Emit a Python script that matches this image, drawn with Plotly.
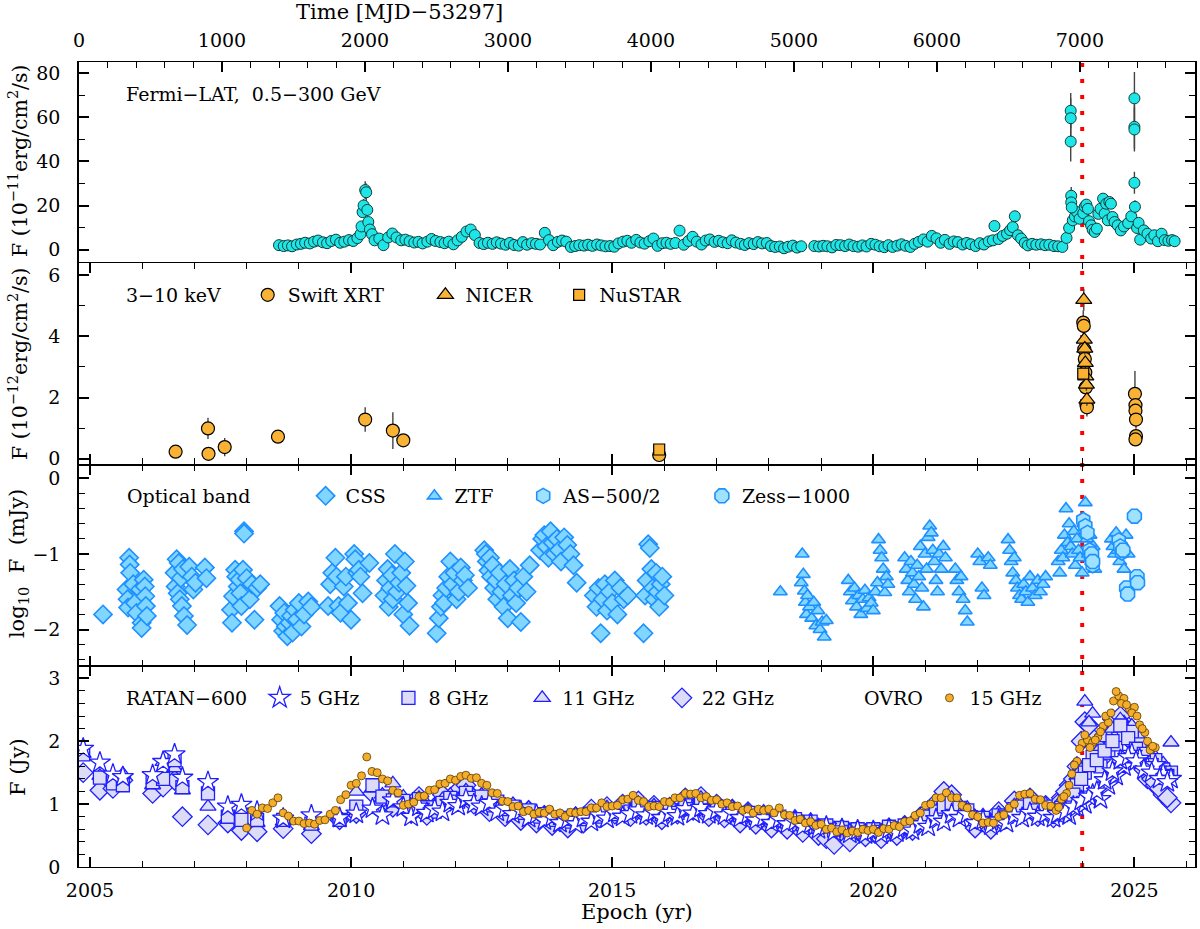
import plotly.graph_objects as go
from plotly.subplots import make_subplots

# ------------------------------------------------------------------ data
MJD0_YEAR = 2004.79          # epoch of MJD 53297
X_RANGE = [2004.79, 2026.16]
red_line_epoch = 2024.0

# Fermi-LAT 0.5-300 GeV (1e-11 erg/cm2/s)
fermi_t = [2008.62, 2008.71, 2008.79, 2008.87, 2008.96,
           2009.04, 2009.12, 2009.21, 2009.29, 2009.37, 2009.46, 2009.54, 2009.62, 2009.71, 2009.79, 2009.87, 2009.96,
           2010.04, 2010.12, 2010.18, 2010.20, 2010.33, 2010.36, 2010.40, 2010.45, 2010.54, 2010.62, 2010.71, 2010.79, 2010.87, 2010.96,
           2011.04, 2011.12, 2011.21, 2011.29, 2011.37, 2011.46, 2011.54, 2011.62, 2011.71, 2011.79, 2011.87, 2011.96,
           2012.04, 2012.12, 2012.21, 2012.29, 2012.37, 2012.46, 2012.54, 2012.62, 2012.71, 2012.79, 2012.87, 2012.96,
           2013.04, 2013.12, 2013.21, 2013.29, 2013.37, 2013.46, 2013.54, 2013.62, 2013.71, 2013.79, 2013.87, 2013.96,
           2014.04, 2014.12, 2014.21, 2014.29, 2014.37, 2014.46, 2014.54, 2014.62, 2014.71, 2014.79, 2014.87, 2014.96,
           2015.04, 2015.12, 2015.21, 2015.29, 2015.37, 2015.46, 2015.54, 2015.62, 2015.71, 2015.79, 2015.87, 2015.96,
           2016.04, 2016.12, 2016.21, 2016.29, 2016.37, 2016.46, 2016.54, 2016.62, 2016.71, 2016.79, 2016.87, 2016.96,
           2017.04, 2017.12, 2017.21, 2017.29, 2017.37, 2017.46, 2017.54, 2017.62, 2017.71, 2017.79, 2017.87, 2017.96,
           2018.04, 2018.12, 2018.21, 2018.29, 2018.37, 2018.46, 2018.54, 2018.62, 2018.87, 2018.96,
           2019.04, 2019.12, 2019.21, 2019.29, 2019.37, 2019.46, 2019.54, 2019.62, 2019.71, 2019.79, 2019.87, 2019.96,
           2020.04, 2020.12, 2020.21, 2020.29, 2020.37, 2020.46, 2020.54, 2020.62, 2020.71, 2020.79, 2020.87, 2020.96,
           2021.04, 2021.12, 2021.21, 2021.29, 2021.37, 2021.46, 2021.54, 2021.62, 2021.71, 2021.79, 2021.87, 2021.96,
           2022.04, 2022.12, 2022.21, 2022.29, 2022.32, 2022.40, 2022.48, 2022.56, 2022.62, 2022.67, 2022.77, 2022.83, 2022.90, 2022.96,
           2023.04, 2023.12, 2023.21, 2023.29, 2023.37, 2023.46, 2023.54, 2023.62, 2023.70, 2023.75, 2023.82, 2023.86, 2023.90, 2023.95,
           2024.02, 2024.05, 2024.08, 2024.11, 2024.13, 2024.17, 2024.20, 2024.24, 2024.28, 2024.31, 2024.35, 2024.40,
           2024.43, 2024.46, 2024.49, 2024.52, 2024.55, 2024.58, 2024.62, 2024.68, 2024.74, 2024.80, 2024.88, 2024.94,
           2025.05, 2025.08, 2025.11, 2025.18, 2025.25, 2025.32, 2025.38, 2025.45, 2025.52, 2025.58, 2025.65, 2025.72, 2025.77]
fermi_f = [2.0, 1.6, 1.9, 1.5, 2.3,
           2.6, 3.1, 2.8, 3.6, 4.1, 3.3, 2.9, 3.9, 4.5, 3.1, 3.6, 4.3,
           3.9, 5.2, 7.0, 10.5, 12.5, 9.1, 7.0, 4.2, 5.0, 2.0, 5.5, 7.3, 5.5, 4.2,
           4.5, 3.8, 3.2, 3.5, 2.8, 3.6, 4.8, 3.9, 3.4, 2.9, 3.6, 2.4,
           4.2, 5.8, 8.2, 9.1, 6.6, 3.0, 2.5, 3.1, 2.6, 3.3, 2.7, 2.2,
           3.0, 2.1, 1.8, 3.4, 2.2, 2.9, 2.6, 2.3, 7.6, 4.3, 2.0, 3.5,
           4.1, 3.6, 1.2, 1.6, 2.0, 1.8, 2.2, 1.7, 2.3, 1.9, 1.5, 1.6,
           1.3, 2.8, 3.6, 4.0, 3.1, 4.4, 3.2, 2.7, 3.8, 5.0, 1.7, 2.9,
           3.1, 2.6, 3.0, 8.6, 2.2, 3.9, 5.8, 3.6, 2.3, 4.1, 4.6, 3.5,
           4.0, 3.3, 2.9, 4.2, 3.2, 2.6, 2.1, 2.9, 2.5, 3.4, 2.8, 3.0,
           1.6, 1.2, 1.4, 0.6, 1.3, 1.8, 0.9, 1.5, 1.6, 1.4,
           1.7, 1.5, 1.0, 2.1, 2.0, 1.6, 2.3, 1.6, 1.3, 1.9, 1.4, 2.6,
           2.2, 1.5, 1.1, 2.0, 1.2, 1.8, 2.4, 1.7, 1.2, 2.6, 3.5, 4.6,
           3.6, 6.2, 5.1, 3.1, 4.4, 2.6, 3.7, 3.4, 2.3, 3.0, 2.4, 1.6,
           2.9, 2.3, 3.7, 4.2, 10.7, 4.8, 6.2, 7.2, 8.8, 10.2, 6.5, 5.0, 3.0, 1.9,
           2.6, 2.2, 2.4, 2.0, 2.2, 1.6, 1.5, 1.2, 5.3, 9.8, 13.3, 15.0, 17.0, 14.0,
           16.5, 19.5, 20.4, 18.5, 12.9, 11.0, 9.0, 8.0, 9.5, 16.2, 18.5, 23.1,
           16.3, 20.8, 13.3, 21.6, 20.8, 14.8, 12.5, 11.0, 8.7, 10.5, 12.0, 15.1,
           9.8, 12.1, 4.5, 8.7, 7.2, 5.0, 6.5, 3.8, 7.2, 4.3, 4.0, 4.3, 3.8]
# Fermi flare bins with visible error bars
fermi_hi_t = [2010.22, 2010.24, 2010.27, 2010.29, 2010.31, 2022.71, 2023.78, 2023.78, 2023.78,
              2023.79, 2023.79, 2023.80, 2025.00, 2025.00, 2025.00, 2025.00, 2025.01]
fermi_hi_f = [17.0, 20.0, 27.0, 26.0, 18.0, 15.1, 63.0, 59.6, 49.0,
              24.4, 21.4, 19.1, 68.6, 55.7, 54.5, 30.3, 19.4]
fermi_hi_e = [2.5, 3.0, 4.0, 4.0, 3.0, 2.5, 8.0, 9.0, 9.0,
              4.0, 3.0, 2.5, 12.0, 10.0, 10.0, 5.0, 3.0]

# X-ray 3-10 keV (1e-12 erg/cm2/s)
swift_t = [2006.64, 2007.26, 2007.27, 2007.58, 2008.60, 2010.27, 2010.80, 2011.00, 2015.90,
           2024.02, 2024.03, 2024.04, 2024.05, 2024.06, 2024.07, 2024.08, 2024.09,
           2025.01, 2025.02, 2025.02, 2025.03, 2025.03, 2025.02]
swift_f = [0.23, 0.99, 0.16, 0.38, 0.72, 1.28, 0.92, 0.60, 0.12,
           4.45, 4.34, 3.58, 3.26, 2.82, 2.33, 1.77, 1.68,
           2.12, 1.75, 1.57, 1.28, 0.74, 0.63]
swift_e = [0.08, 0.35, 0.08, 0.30, 0.10, 0.40, 0.60, 0.15, 0.10,
           0.40, 0.30, 0.30, 0.30, 0.30, 0.30, 0.30, 0.30,
           0.75, 0.30, 0.30, 0.30, 0.20, 0.20]
nicer_t = [2024.03, 2024.04, 2024.05, 2024.06, 2024.07, 2024.08, 2024.09]
nicer_f = [5.19, 3.89, 3.60, 3.13, 2.69, 2.42, 1.93]
nicer_e = [0.35, 0.20, 0.20, 0.20, 0.20, 0.20, 0.20]
nustar_t = [2015.90, 2024.02]
nustar_f = [0.30, 2.78]

# Optical, log10 F (mJy)
css_t = [2005.25,
         2005.70, 2005.72, 2005.73, 2005.75, 2005.76, 2005.77, 2005.83, 2005.86, 2005.89, 2005.96, 2005.99, 2005.99, 2006.03, 2006.05, 2006.06, 2006.07, 2006.09,
         2006.62, 2006.64, 2006.66, 2006.68, 2006.70, 2006.72, 2006.74, 2006.76, 2006.78, 2006.80, 2006.86, 2006.90, 2006.95, 2006.98, 2007.02, 2007.20, 2007.23,
         2007.70, 2007.72, 2007.74, 2007.78, 2007.80, 2007.83, 2007.86, 2007.88, 2007.90, 2007.93, 2007.95, 2007.95, 2008.00, 2008.06, 2008.10, 2008.15, 2008.20, 2008.26,
         2008.63, 2008.66, 2008.70, 2008.72, 2008.75, 2008.78, 2008.82, 2008.85, 2008.88, 2008.92, 2008.96, 2009.00, 2009.05, 2009.10, 2009.18, 2009.24,
         2009.56, 2009.60, 2009.64, 2009.70, 2009.72, 2009.76, 2009.80, 2009.86, 2009.90, 2009.94, 2010.00, 2010.06, 2010.08, 2010.12, 2010.15, 2010.18, 2010.22, 2010.35,
         2010.64, 2010.67, 2010.70, 2010.72, 2010.75, 2010.78, 2010.80, 2010.84, 2010.88, 2010.92, 2010.96, 2011.00, 2011.03, 2011.06, 2011.09, 2011.12,
         2011.64, 2011.68, 2011.72, 2011.75, 2011.78, 2011.82, 2011.86, 2011.90, 2011.94, 2011.98, 2012.02, 2012.06, 2012.10, 2012.14, 2012.18, 2012.24,
         2012.55, 2012.58, 2012.60, 2012.63, 2012.66, 2012.68, 2012.71, 2012.74, 2012.77, 2012.80, 2012.84, 2012.88, 2012.92, 2012.96,
         2013.00, 2013.04, 2013.08, 2013.12, 2013.16, 2013.20, 2013.25, 2013.30, 2013.36, 2013.42,
         2013.62, 2013.66, 2013.70, 2013.74, 2013.78, 2013.82, 2013.86, 2013.90, 2013.94, 2013.98, 2014.02, 2014.08, 2014.14, 2014.20, 2014.26, 2014.32,
         2014.65, 2014.70, 2014.74, 2014.78, 2014.82, 2014.86, 2014.90, 2014.95, 2015.00, 2015.05, 2015.10, 2015.16, 2015.22, 2015.30,
         2015.60, 2015.63, 2015.66, 2015.69, 2015.72, 2015.75, 2015.78, 2015.81, 2015.84, 2015.87, 2015.90, 2015.93, 2015.96, 2016.00]
css_m = [-1.80,
         -1.47, -1.60, -1.71, -1.05, -1.14, -1.25, -1.40, -1.65, -1.78, -1.47, -1.91, -1.98, -1.34, -1.43, -1.56, -1.69, -1.82,
         -1.25, -1.43, -1.07, -1.52, -1.12, -1.60, -1.32, -1.69, -1.20, -1.82, -1.94, -1.17, -1.30, -1.47, -1.38, -1.18, -1.32,
         -1.74, -1.91, -1.56, -1.21, -1.30, -1.43, -1.34, -1.52, -1.69, -1.21, -0.70, -0.73, -1.32, -1.60, -1.40, -1.87, -1.45, -1.40,
         -1.69, -1.87, -2.02, -1.78, -1.96, -2.09, -1.91, -1.82, -2.04, -1.74, -1.87, -1.65, -1.96, -1.80, -1.63, -1.70,
         -1.69, -1.40, -1.25, -1.05, -1.30, -1.69, -1.78, -1.43, -1.30, -1.65, -1.87, -1.00, -1.07, -1.25, -1.21, -1.30, -1.52, -1.12,
         -1.55, -1.35, -1.20, -1.70, -1.45, -1.28, -1.60, -1.00, -1.50, -1.38, -1.25, -1.80, -1.10, -1.42, -1.65, -1.95,
         -2.05, -1.85, -1.70, -1.55, -1.65, -1.45, -1.30, -1.10, -1.40, -1.25, -1.60, -1.50, -1.18, -1.35, -1.28, -1.45,
         -0.95, -1.00, -1.10, -1.22, -1.05, -1.30, -1.15, -1.45, -1.35, -1.60, -1.25, -1.50, -1.70, -1.40,
         -1.85, -1.20, -1.55, -1.35, -1.65, -1.45, -1.90, -1.30, -1.50, -1.15,
         -0.95, -0.80, -0.75, -0.90, -1.05, -0.70, -0.85, -1.00, -0.80, -0.95, -1.10, -0.78, -0.88, -1.00, -1.15, -1.38,
         -1.55, -1.70, -1.45, -2.05, -1.60, -1.40, -1.75, -1.50, -1.65, -1.35, -1.80, -1.45, -1.60, -1.55,
         -2.05, -1.55, -1.35, -0.87, -0.92, -1.20, -1.45, -1.60, -1.25, -1.50, -1.70, -1.40, -1.30, -1.55]

ztf_t = [2018.22,
         2018.62, 2018.64, 2018.66, 2018.68, 2018.70, 2018.72, 2018.74, 2018.78, 2018.82, 2018.86, 2018.90, 2018.94, 2018.98, 2019.02, 2019.06, 2019.10,
         2019.52, 2019.56, 2019.60, 2019.64, 2019.68, 2019.72, 2019.76, 2019.80, 2019.84, 2019.88, 2019.92, 2019.96,
         2020.00, 2020.04, 2020.08, 2020.10, 2020.13, 2020.16, 2020.19, 2020.22, 2020.25, 2020.28,
         2020.60, 2020.63, 2020.66, 2020.69, 2020.72, 2020.75, 2020.78, 2020.81, 2020.84, 2020.87, 2020.90, 2020.93, 2020.96, 2020.99,
         2021.02, 2021.05, 2021.08, 2021.11, 2021.14, 2021.17, 2021.20, 2021.23, 2021.26, 2021.30, 2021.34, 2021.38,
         2021.57, 2021.60, 2021.64, 2021.68, 2021.72, 2021.76, 2021.80,
         2022.00, 2022.04, 2022.08, 2022.12, 2022.20, 2022.24,
         2022.58, 2022.61, 2022.64, 2022.67, 2022.70, 2022.73, 2022.76, 2022.80, 2022.84, 2022.88, 2022.92, 2022.96,
         2023.00, 2023.05, 2023.10, 2023.15, 2023.20, 2023.25, 2023.30,
         2023.54, 2023.57, 2023.60, 2023.63, 2023.66, 2023.69, 2023.72, 2023.75, 2023.78, 2023.81, 2023.84, 2023.87, 2023.90, 2023.93, 2023.96,
         2024.00, 2024.03, 2024.06, 2024.09, 2024.12, 2024.15, 2024.18, 2024.21, 2024.24,
         2024.56, 2024.59, 2024.62, 2024.65, 2024.68, 2024.72, 2024.76, 2024.80, 2024.84, 2024.88]
ztf_m = [-1.50,
         -1.38, -1.00, -1.27, -1.49, -1.64, -1.80, -1.55, -1.70, -1.85, -1.64, -1.95, -1.75, -2.00, -1.90, -2.10, -1.88,
         -1.35, -1.50, -1.62, -1.45, -1.70, -1.55, -1.80, -1.60, -1.48, -1.72, -1.58, -1.65,
         -1.75, -1.50, -1.38, -0.81, -0.95, -1.05, -1.20, -1.51, -1.30, -1.40,
         -1.05, -1.20, -1.35, -1.50, -1.10, -1.25, -1.40, -1.60, -1.15, -1.30, -0.90, -1.45, -1.70, -1.00,
         -1.20, -0.78, -0.63, -0.72, -0.95, -1.10, -1.35, -1.50, -1.00, -1.20, -0.90, -1.05,
         -1.20, -1.35, -1.50, -1.30, -1.60, -1.75, -1.90,
         -1.00, -1.10, -1.45, -1.55, -1.05, -1.15,
         -0.81, -0.95, -1.10, -1.25, -1.05, -1.35, -1.45, -1.55, -1.60, -1.40, -1.50, -1.64,
         -1.30, -1.45, -1.55, -1.35, -1.50, -1.40, -1.30,
         -1.10, -1.25, -0.95, -1.05, -0.75, -0.40, -0.85, -0.60, -0.90, -1.00, -0.70, -1.15, -0.80, -0.95, -1.05,
         -1.25, -0.60, -0.32, -0.80, -1.00, -0.75, -1.10, -0.90, -1.20,
         -0.80, -0.90, -1.00, -0.72, -0.95, -1.10, -0.85, -1.20, -0.75, -1.00]

as500_t = [2024.02, 2024.06, 2024.10, 2024.14, 2024.17, 2024.20, 2024.70, 2024.73, 2024.76]
as500_m = [-0.55, -0.63, -0.72, -0.95, -1.05, -1.15, -0.82, -0.90, -0.98]
zess_t = [2024.18, 2024.20, 2024.78, 2024.85, 2024.87, 2025.00, 2025.05, 2025.06]
zess_m = [-1.00, -1.10, -0.95, -1.45, -1.53, -0.50, -1.30, -1.38]

# Radio (Jy): RATAN-600 at 5, 8, 11, 22 GHz
ratan_t = [2004.87, 2005.19, 2005.44, 2005.63, 2006.20, 2006.40, 2006.62, 2006.77, 2007.26, 2007.64,
           2007.90, 2008.20, 2008.70, 2009.24, 2009.78, 2010.10, 2010.41, 2010.60, 2010.80,
           2011.00, 2011.15, 2011.30, 2011.45, 2011.60, 2011.75, 2011.90, 2012.05, 2012.20, 2012.35,
           2012.50, 2012.65, 2012.80, 2012.95, 2013.10, 2013.25, 2013.40, 2013.55, 2013.70, 2013.85,
           2014.00, 2014.15, 2014.30, 2014.45, 2014.60, 2014.75, 2014.90, 2015.05, 2015.20, 2015.35,
           2015.50, 2015.65, 2015.80, 2015.95, 2016.10, 2016.25, 2016.40, 2016.55, 2016.70, 2016.85,
           2017.00, 2017.15, 2017.30, 2017.45, 2017.60, 2017.75, 2017.90, 2018.05, 2018.20, 2018.35,
           2018.50, 2018.65, 2018.80, 2018.95, 2019.10, 2019.25, 2019.40, 2019.55, 2019.70, 2019.85,
           2020.00, 2020.15, 2020.30, 2020.45, 2020.60, 2020.75, 2020.90, 2021.05, 2021.20, 2021.35,
           2021.50, 2021.65, 2021.80, 2021.95, 2022.10, 2022.25, 2022.40, 2022.55, 2022.70, 2022.85,
           2023.00, 2023.15, 2023.30, 2023.45, 2023.60, 2023.75, 2023.90, 2024.05, 2024.20, 2024.35,
           2024.50, 2024.65, 2024.80, 2024.95, 2025.10, 2025.25, 2025.40, 2025.55, 2025.70,
           2023.53, 2023.68, 2023.83, 2023.98, 2024.13, 2024.28, 2024.43, 2024.58, 2024.73, 2024.88,
           2025.03, 2025.18, 2025.33, 2025.48, 2025.63]
ratan_5 = [1.88, 1.66, 1.47, 1.43, 1.46, 1.67, 1.79, 1.42, 1.35, 0.96,
           0.99, 0.88, 0.77, 0.82, 0.78, 0.85, 0.93, 0.82, 1.06,
           0.95, 0.80, 0.96, 0.86, 0.92, 0.88, 1.02, 0.97, 1.08, 1.00,
           0.96, 1.02, 0.88, 0.93, 0.84, 0.89, 0.78, 0.83, 0.74, 0.79,
           0.70, 0.75, 0.68, 0.78, 0.72, 0.82, 0.77, 0.86, 0.80, 0.84,
           0.90, 0.82, 0.87, 0.78, 0.86, 0.81, 0.92, 0.85, 0.94, 0.84,
           0.90, 0.82, 0.86, 0.78, 0.83, 0.74, 0.78, 0.70, 0.76, 0.68,
           0.72, 0.64, 0.68, 0.60, 0.64, 0.56, 0.60, 0.53, 0.58, 0.52,
           0.57, 0.52, 0.60, 0.55, 0.62, 0.58, 0.68, 0.64, 0.76, 0.72,
           0.84, 0.78, 0.84, 0.70, 0.74, 0.66, 0.74, 0.70, 0.82, 0.78,
           0.86, 0.80, 0.84, 0.78, 0.86, 0.82, 0.95, 1.00, 1.15, 1.08,
           1.30, 1.45, 1.60, 1.80, 1.72, 1.58, 1.62, 1.48, 1.40,
           0.84, 0.88, 0.96, 1.05, 1.12, 1.20, 1.38, 1.52, 1.70, 1.75,
           1.68, 1.55, 1.50, 1.40, 1.35]
ratan_8 = [1.79, 1.42, 1.33, 1.30, 1.35, 1.40, 1.70, 1.27, 1.17, 0.80,
           0.75, 0.75, 0.75, 0.69, 0.75, 0.96, 1.30, 1.12, 1.06,
           1.05, 0.92, 1.08, 0.95, 0.88, 1.02, 1.10, 1.04, 1.18, 1.10,
           1.12, 0.98, 1.04, 0.92, 0.96, 0.86, 0.90, 0.80, 0.84, 0.75,
           0.78, 0.72, 0.80, 0.76, 0.85, 0.80, 0.90, 0.84, 0.94, 0.88,
           0.98, 0.90, 0.94, 0.84, 0.90, 0.86, 0.98, 0.92, 1.05, 0.90,
           0.96, 0.88, 0.92, 0.82, 0.86, 0.78, 0.84, 0.74, 0.80, 0.72,
           0.76, 0.68, 0.72, 0.64, 0.66, 0.58, 0.62, 0.56, 0.60, 0.55,
           0.60, 0.56, 0.64, 0.58, 0.66, 0.62, 0.74, 0.80, 0.88, 0.96,
           1.02, 0.94, 0.90, 0.76, 0.78, 0.70, 0.82, 0.80, 0.92, 0.96,
           1.00, 0.90, 0.96, 0.86, 0.94, 1.05, 1.30, 1.50, 1.75, 1.60,
           1.82, 1.95, 2.10, 2.15, 1.95, 1.78, 1.70, 1.55, 1.50,
           0.90, 1.00, 1.15, 1.40, 1.62, 1.70, 1.85, 2.00, 2.25, 2.05,
           1.88, 1.80, 1.62, 1.50, 1.45]
ratan_11 = [1.80, 1.45, 1.38, 1.48, 1.30, 1.67, 1.57, 1.22, 0.96, 0.75,
            0.72, 0.70, 0.72, 0.65, 0.80, 1.20, 1.25, 1.15, 1.33,
            1.12, 0.98, 1.10, 1.00, 0.94, 1.08, 1.15, 1.08, 1.22, 1.14,
            1.15, 1.02, 1.08, 0.96, 1.00, 0.90, 0.94, 0.84, 0.86, 0.78,
            0.80, 0.76, 0.84, 0.80, 0.88, 0.84, 0.95, 0.88, 0.98, 0.92,
            1.02, 0.94, 0.98, 0.88, 0.95, 0.90, 1.04, 0.96, 1.10, 0.94,
            1.00, 0.92, 0.96, 0.86, 0.90, 0.82, 0.88, 0.78, 0.84, 0.75,
            0.80, 0.72, 0.75, 0.66, 0.68, 0.60, 0.65, 0.58, 0.62, 0.57,
            0.62, 0.58, 0.66, 0.60, 0.70, 0.66, 0.78, 0.86, 0.96, 1.05,
            1.10, 1.00, 0.94, 0.80, 0.82, 0.74, 0.86, 0.84, 0.98, 1.04,
            1.06, 0.95, 1.00, 0.90, 1.02, 1.15, 1.45, 2.63, 2.44, 1.90,
            1.95, 2.10, 2.30, 2.25, 2.05, 1.85, 1.75, 1.65, 1.98,
            0.98, 1.08, 1.25, 1.55, 2.30, 2.00, 2.05, 2.20, 2.35, 2.15,
            1.95, 1.90, 1.72, 1.60, 1.55]
ratan_22 = [1.50, 1.22, 1.25, 1.38, 1.17, 1.27, 1.38, 0.80, 0.67, 0.70,
            0.58, 0.56, 0.61, 0.53, 0.75, 0.85, 1.17, 1.00, 0.95,
            1.00, 0.85, 1.12, 0.82, 0.95, 1.15, 1.05, 1.22, 1.30, 1.00,
            1.10, 0.88, 0.98, 0.80, 0.95, 0.74, 0.90, 0.70, 0.82, 0.66,
            0.72, 0.62, 0.80, 0.70, 0.92, 0.78, 0.96, 0.84, 1.00, 0.80,
            1.05, 0.82, 0.98, 0.75, 0.95, 0.84, 1.10, 0.90, 1.12, 0.80,
            1.00, 0.78, 0.92, 0.70, 0.88, 0.68, 0.82, 0.62, 0.78, 0.60,
            0.70, 0.55, 0.68, 0.50, 0.45, 0.36, 0.52, 0.40, 0.58, 0.48,
            0.55, 0.45, 0.62, 0.50, 0.66, 0.58, 0.80, 0.90, 1.02, 1.20,
            1.15, 0.92, 0.88, 0.62, 0.72, 0.60, 0.88, 0.78, 1.05, 1.02,
            1.10, 0.80, 0.98, 0.78, 1.10, 1.30, 1.60, 2.31, 2.05, 1.70,
            1.95, 2.25, 2.30, 2.00, 1.75, 1.40, 1.30, 1.15, 1.02,
            1.00, 1.20, 1.40, 2.00, 2.25, 1.85, 2.10, 2.35, 2.40, 2.05,
            1.70, 1.55, 1.40, 1.25, 1.10]

# OVRO 15 GHz (Jy)
ovro_t = [2008.0, 2008.1, 2008.2, 2008.3, 2008.4, 2008.5, 2008.6, 2008.7, 2008.8, 2008.9,
          2009.0, 2009.1, 2009.2, 2009.3, 2009.4, 2009.5, 2009.6, 2009.7, 2009.8, 2009.9,
          2010.0, 2010.1, 2010.2, 2010.3, 2010.4, 2010.5, 2010.6, 2010.7, 2010.8, 2010.9,
          2011.0, 2011.1, 2011.2, 2011.3, 2011.4, 2011.5, 2011.6, 2011.7, 2011.8, 2011.9,
          2012.0, 2012.1, 2012.2, 2012.3, 2012.4, 2012.5, 2012.6, 2012.7, 2012.8, 2012.9,
          2013.0, 2013.1, 2013.2, 2013.3, 2013.4, 2013.5, 2013.6, 2013.7, 2013.8, 2013.9,
          2014.0, 2014.1, 2014.2, 2014.3, 2014.4, 2014.5, 2014.6, 2014.7, 2014.8, 2014.9,
          2015.0, 2015.1, 2015.2, 2015.3, 2015.4, 2015.5, 2015.6, 2015.7, 2015.8, 2015.9,
          2016.0, 2016.1, 2016.2, 2016.3, 2016.4, 2016.5, 2016.6, 2016.7, 2016.8, 2016.9,
          2017.0, 2017.1, 2017.2, 2017.3, 2017.4, 2017.5, 2017.6, 2017.7, 2017.8, 2017.9,
          2018.0, 2018.1, 2018.2, 2018.3, 2018.4, 2018.5, 2018.6, 2018.7, 2018.8, 2018.9,
          2019.0, 2019.1, 2019.2, 2019.3, 2019.4, 2019.5, 2019.6, 2019.7, 2019.8, 2019.9,
          2020.0, 2020.1, 2020.2, 2020.3, 2020.4, 2020.5, 2020.6, 2020.7, 2020.8, 2020.9,
          2021.0, 2021.1, 2021.2, 2021.3, 2021.4, 2021.5, 2021.6, 2021.7, 2021.8, 2021.9,
          2022.0, 2022.1, 2022.2, 2022.3, 2022.4, 2022.5, 2022.6, 2022.7, 2022.8, 2022.9,
          2023.0, 2023.1, 2023.2, 2023.3, 2023.4, 2023.5, 2023.6, 2023.7, 2023.8, 2023.9,
          2024.0, 2024.1, 2024.2, 2024.3, 2024.4, 2024.5, 2024.6, 2024.7, 2024.8, 2024.9,
          2025.0, 2025.1, 2025.2, 2025.3, 2025.4,
          2023.55, 2023.65, 2023.75, 2023.85, 2023.95, 2024.05, 2024.15, 2024.25, 2024.35, 2024.45,
          2024.55, 2024.65, 2024.75, 2024.85, 2024.95, 2025.05, 2025.15, 2025.25, 2025.35]
ovro_f = [0.62, 0.90, 0.84, 0.94, 0.93, 1.02, 1.10, 0.86, 0.81, 0.73,
          0.73, 0.69, 0.70, 0.68, 0.74, 0.75, 0.84, 0.90, 1.07, 1.15,
          1.30, 1.33, 1.45, 1.75, 1.52, 1.50, 1.40, 1.37, 1.22, 1.18,
          0.98, 1.00, 1.03, 1.12, 1.13, 1.22, 1.23, 1.32, 1.33, 1.40,
          1.38, 1.44, 1.46, 1.41, 1.42, 1.33, 1.30, 1.18, 1.17, 1.05,
          1.04, 0.96, 0.97, 0.88, 0.90, 0.84, 0.87, 0.86, 0.92, 0.84,
          0.86, 0.80, 0.87, 0.86, 0.88, 0.88, 0.94, 0.94, 1.02, 0.96,
          0.97, 0.98, 1.07, 1.08, 1.14, 1.06, 1.04, 0.96, 0.97, 0.96,
          1.04, 1.03, 1.10, 1.10, 1.17, 1.16, 1.17, 1.10, 1.12, 1.06,
          1.07, 1.00, 1.02, 0.96, 0.97, 0.90, 0.92, 0.86, 0.92, 0.90,
          0.92, 0.86, 0.94, 0.83, 0.82, 0.74, 0.76, 0.70, 0.72, 0.66,
          0.68, 0.60, 0.62, 0.56, 0.59, 0.54, 0.57, 0.55, 0.60, 0.58,
          0.60, 0.55, 0.61, 0.60, 0.66, 0.64, 0.72, 0.73, 0.82, 0.86,
          0.98, 1.00, 1.10, 1.10, 1.18, 1.10, 1.10, 0.98, 0.94, 0.83,
          0.80, 0.70, 0.71, 0.70, 0.80, 0.83, 0.94, 1.00, 1.14, 1.16,
          1.17, 1.08, 1.07, 0.98, 0.97, 0.90, 1.08, 1.17, 1.48, 1.68,
          1.97, 2.02, 1.98, 2.06, 2.24, 2.30, 2.64, 2.72, 2.68, 2.52,
          2.54, 2.26, 2.14, 1.86, 1.90,
          0.95, 1.12, 1.30, 1.62, 1.88, 2.10, 1.90, 2.02, 2.15, 2.40,
          2.45, 2.79, 2.60, 2.58, 2.45, 2.40, 2.20, 2.00, 1.92]

for a, b in [(fermi_t, fermi_f), (fermi_hi_t, fermi_hi_f), (swift_t, swift_f), (css_t, css_m),
             (ztf_t, ztf_m), (ratan_t, ratan_5), (ratan_t, ratan_8), (ratan_t, ratan_11),
             (ratan_t, ratan_22), (ovro_t, ovro_f), (nicer_t, nicer_f)]:
    assert len(a) == len(b), (len(a), len(b))

# ------------------------------------------------------------------ style
FONT = "DejaVu Serif"
FS = 19
W, H = 1200, 929
ML, MR, MT, MB = 79, 3, 62, 62
PW, PH = W - ML - MR, H - MT - MB

CYAN, ORANGE = "#1fe6e6", "#f9b233"
SKY_FILL, SKY_LINE = "#80d6ff", "#1e90ff"
HEX_FILL = "#9ee2ff"
RAT_FILL, RAT_LINE = "#dcdcf6", "#1f1fff"
ERR = dict(type="data", color="#444444", thickness=1.4, width=0)


def year_to_mjd(y):
    return (y - MJD0_YEAR) * 365.25


fig = make_subplots(rows=4, cols=1, shared_xaxes=True, vertical_spacing=0)

# panel 1 : Fermi, drawn on the top MJD axis (x5)
fermi_mjd = [year_to_mjd(t) for t in fermi_t]
fermi_hi_mjd = [year_to_mjd(t) for t in fermi_hi_t]
fig.add_trace(go.Scatter(x=fermi_mjd, y=fermi_f, mode="markers", showlegend=False, xaxis="x5", yaxis="y",
                         marker=dict(symbol="circle", size=11, color=CYAN,
                                     line=dict(color="#0d3d3d", width=1))))
fig.add_trace(go.Scatter(x=fermi_hi_mjd, y=fermi_hi_f, mode="markers", showlegend=False, xaxis="x5", yaxis="y",
                         error_y=dict(array=fermi_hi_e, **ERR),
                         marker=dict(symbol="circle", size=11, color=CYAN,
                                     line=dict(color="#0d3d3d", width=1))))

# panel 2 : X-ray
fig.add_trace(go.Scatter(x=swift_t, y=swift_f, mode="markers", name="Swift XRT", legend="legend",
                         error_y=dict(array=swift_e, **ERR),
                         marker=dict(symbol="circle", size=13, color=ORANGE,
                                     line=dict(color="black", width=1.2))), row=2, col=1)
fig.add_trace(go.Scatter(x=nicer_t, y=nicer_f, mode="markers", name="NICER", legend="legend2",
                         error_y=dict(array=nicer_e, **ERR),
                         marker=dict(symbol="triangle-up", size=14, color=ORANGE,
                                     line=dict(color="black", width=1.2))), row=2, col=1)
fig.add_trace(go.Scatter(x=nustar_t, y=nustar_f, mode="markers", name="NuSTAR", legend="legend3",
                         marker=dict(symbol="square", size=11, color=ORANGE,
                                     line=dict(color="black", width=1.2))), row=2, col=1)

# panel 3 : optical
fig.add_trace(go.Scatter(x=css_t, y=css_m, mode="markers", name="CSS", legend="legend4",
                         marker=dict(symbol="diamond", size=14, color=SKY_FILL,
                                     line=dict(color=SKY_LINE, width=1.6))), row=3, col=1)
fig.add_trace(go.Scatter(x=ztf_t, y=ztf_m, mode="markers", name="ZTF", legend="legend5",
                         marker=dict(symbol="triangle-up", size=12, color=SKY_FILL,
                                     line=dict(color=SKY_LINE, width=1.6))), row=3, col=1)
fig.add_trace(go.Scatter(x=as500_t, y=as500_m, mode="markers", name="AS−500/2", legend="legend6",
                         marker=dict(symbol="hexagon", size=15, color=HEX_FILL,
                                     line=dict(color=SKY_LINE, width=1.6))), row=3, col=1)
fig.add_trace(go.Scatter(x=zess_t, y=zess_m, mode="markers", name="Zess−1000", legend="legend7",
                         marker=dict(symbol="octagon", size=15, color=HEX_FILL,
                                     line=dict(color=SKY_LINE, width=1.6))), row=3, col=1)

# panel 4 : radio
fig.add_trace(go.Scatter(x=ratan_t, y=ratan_22, mode="markers", name="22 GHz", legend="legend11",
                         marker=dict(symbol="diamond", size=15, color=RAT_FILL,
                                     line=dict(color=RAT_LINE, width=1.3))), row=4, col=1)
fig.add_trace(go.Scatter(x=ratan_t, y=ratan_11, mode="markers", name="11 GHz", legend="legend10",
                         marker=dict(symbol="triangle-up", size=14, color=RAT_FILL,
                                     line=dict(color=RAT_LINE, width=1.3))), row=4, col=1)
fig.add_trace(go.Scatter(x=ratan_t, y=ratan_8, mode="markers", name="8 GHz", legend="legend9",
                         marker=dict(symbol="square", size=13, color=RAT_FILL,
                                     line=dict(color=RAT_LINE, width=1.3))), row=4, col=1)
fig.add_trace(go.Scatter(x=ratan_t, y=ratan_5, mode="markers", name="5 GHz", legend="legend8",
                         marker=dict(symbol="star", size=16, color="white",
                                     line=dict(color=RAT_LINE, width=1.3))), row=4, col=1)
fig.add_trace(go.Scatter(x=ovro_t, y=ovro_f, mode="markers", name="15 GHz", legend="legend12",
                         marker=dict(symbol="circle", size=8, color="#f5ae2c",
                                     line=dict(color="#5a3b00", width=0.8))), row=4, col=1)

# ------------------------------------------------------------------ axes
tickfont = dict(family=FONT, size=FS, color="black")
xcommon = dict(range=X_RANGE, showline=True, linewidth=1.2, linecolor="black",
               ticks="inside", ticklen=10, tickwidth=1.5, tickcolor="black",
               tick0=2005, dtick=5,
               minor=dict(ticks="inside", ticklen=6, tickwidth=1.3, tickcolor="black", tick0=2005, dtick=1),
               showgrid=False, zeroline=False, tickfont=tickfont, ticklabelstandoff=6)
for r in range(1, 5):
    fig.update_xaxes(xcommon, row=r, col=1)
    fig.update_xaxes(mirror=("allticks" if r > 1 else True), showticklabels=(r == 4), row=r, col=1)

ycommon = dict(showline=True, linewidth=1.5, linecolor="black", mirror="allticks",
               ticks="inside", ticklen=10, tickwidth=1.5, tickcolor="black",
               showgrid=False, zeroline=False, tickfont=tickfont, ticklabelstandoff=13)
ysets = [([-6.2, 85.1], 20, 10), ([-0.19, 6.39], 2, 1), ([-2.48, 0.185], 1, 0.2), ([0, 3.2], 1, 0.2)]
for r, (rng, dt, mdt) in enumerate(ysets, start=1):
    fig.update_yaxes(ycommon, row=r, col=1)
    fig.update_yaxes(range=rng, tick0=0, dtick=dt,
                     minor=dict(ticks="inside", ticklen=6, tickwidth=1.3, tickcolor="black", tick0=0, dtick=mdt),
                     row=r, col=1)

mjd_range = [year_to_mjd(X_RANGE[0]), year_to_mjd(X_RANGE[1])]
fig.update_layout(xaxis5=dict(overlaying="x", side="top", anchor="y", range=mjd_range,
                              tick0=0, dtick=1000, ticks="inside", ticklen=10, tickwidth=1.5,
                              tickcolor="black", showline=True, linewidth=1.2, linecolor="black",
                              minor=dict(ticks="inside", ticklen=6, tickwidth=1.3, tickcolor="black", dtick=200),
                              showgrid=False, zeroline=False, tickfont=tickfont, ticklabelstandoff=6))

# red dotted epoch line
fig.add_shape(type="line", xref="x4", yref="paper", x0=red_line_epoch, x1=red_line_epoch, y0=0, y1=1,
              line=dict(color="red", width=4, dash="4px,12px"), layer="below")


def px2x(px):
    return (px - ML) / PW


def px2y(py):
    return (H - MB - py) / PH


# ------------------------------------------------------------------ legends
legend_pos = {
    "legend": (268, 295), "legend2": (446, 295), "legend3": (580, 295),
    "legend4": (326, 496), "legend5": (435, 496), "legend6": (544, 496), "legend7": (723, 496),
    "legend8": (280, 698), "legend9": (409, 698), "legend10": (543, 698), "legend11": (683, 698),
    "legend12": (951, 698),
}
for key, (sx, sy) in legend_pos.items():
    fig.update_layout({key: dict(x=px2x(sx - 20), y=px2y(sy), xanchor="left", yanchor="middle",
                                 xref="paper", yref="paper", bgcolor="rgba(0,0,0,0)", borderwidth=0,
                                 font=dict(family=FONT, size=FS, color="black"))})

# ------------------------------------------------------------------ texts
labels = [("Fermi−LAT,  0.5−300 GeV", 124, 94), ("3−10 keV", 124, 295), ("Optical band", 125, 496),
          ("RATAN−600", 124, 698), ("OVRO", 863, 698)]
for txt, lx, ly in labels:
    fig.add_annotation(text=txt, x=px2x(lx), y=px2y(ly), xref="paper", yref="paper",
                       xanchor="left", yanchor="middle", showarrow=False,
                       font=dict(family=FONT, size=FS, color="black"))

ytitles = [("F (10<sup>−11</sup>erg/cm<sup>2</sup>/s)", 161, 20.5),
           ("F (10<sup>−12</sup>erg/cm<sup>2</sup>/s)", 364, 20.5),
           ("log<sub>10</sub>\u00a0\u00a0F\u00a0\u00a0(mJy)", 564, 21),
           ("F\u00a0(Jy)", 767, 21)]
for txt, cy, fs in ytitles:
    fig.add_annotation(text=txt, x=px2x(18), y=px2y(cy), xref="paper", yref="paper",
                       xanchor="center", yanchor="middle", textangle=-90, showarrow=False,
                       font=dict(family=FONT, size=fs, color="black"))

fig.add_annotation(text="Time [MJD−53297]", x=px2x(400), y=px2y(12), xref="paper", yref="paper",
                   xanchor="center", yanchor="middle", showarrow=False,
                   font=dict(family=FONT, size=21, color="black"))
fig.add_annotation(text="Epoch (yr)", x=px2x(638), y=px2y(912), xref="paper", yref="paper",
                   xanchor="center", yanchor="middle", showarrow=False,
                   font=dict(family=FONT, size=21, color="black"))

fig.update_layout(width=W, height=H, margin=dict(l=ML, r=MR, t=MT, b=MB),
                  paper_bgcolor="white", plot_bgcolor="white",
                  font=dict(family=FONT, size=FS, color="black"))

fig.write_html("out.html")
